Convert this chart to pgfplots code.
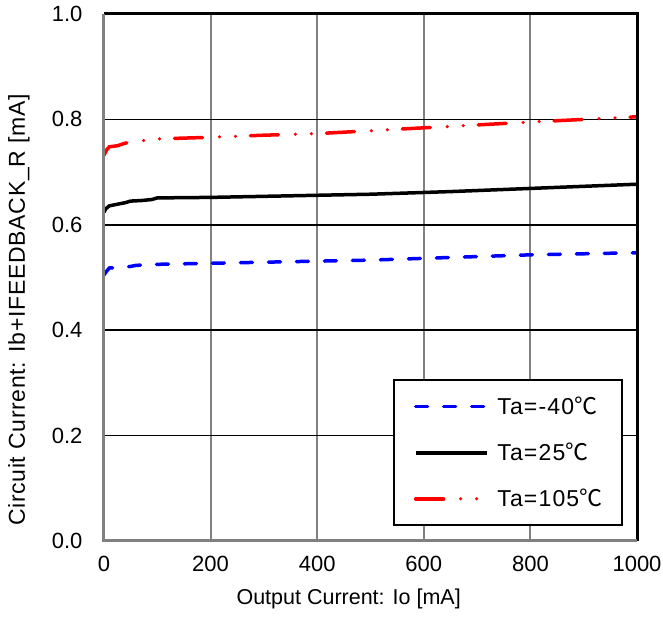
\documentclass[border=0pt]{standalone}
\usepackage{pgfplots}
\pgfplotsset{compat=1.18}
\usepackage{fontspec}
\setmainfont{Liberation Sans}
\newfontfamily\cjk{Noto Sans CJK JP}
\newcommand{\degC}{{\cjk ℃}}
\definecolor{gridgray}{RGB}{128,128,128}
\definecolor{cblue}{RGB}{0,0,255}
\definecolor{cred}{RGB}{255,0,0}
\begin{document}
\begin{tikzpicture}
\begin{axis}[
  name=ax,
  scale only axis, width=533pt, height=527pt,
  xmin=0, xmax=1000, ymin=0, ymax=1,
  xtick={0,200,400,600,800,1000},
  ytick={0,0.2,0.4,0.6,0.8,1.0},
  yticklabel style={/pgf/number format/fixed, /pgf/number format/fixed zerofill, /pgf/number format/precision=1, xshift=-18pt},
  /pgf/number format/assume math mode=true,
  /pgf/number format/1000 sep={},
  tick label style={font=\fontsize{22}{26}\selectfont},
  axis line style={draw=none},
  tick style={draw=none},
  major tick length=0pt,
  xticklabel style={yshift=-12pt},
  xmajorgrids, ymajorgrids,
  x grid style={gridgray, line width=2pt},
  y grid style={black, line width=1.5pt},
  xlabel={Output Current: Io [mA]},
  ylabel={Circuit Current: Ib+IFEEDBACK\_R [mA]},
  xlabel style={font=\fontsize{21.5}{26}\selectfont, at={(rel axis cs:0.459,0)}, anchor=center, yshift=-58pt},
  ylabel style={font=\fontsize{23}{27}\selectfont\addfontfeatures{LetterSpace=3}, at={([xshift=-85pt]rel axis cs:0,0.438)}, anchor=center},
  legend style={at={(rel axis cs:0.542,0.307)}, anchor=north west,
    draw=black, line width=2pt, fill=white,
    font=\fontsize{23}{27}\selectfont\addfontfeatures{LetterSpace=5},
    inner xsep=20pt, inner ysep=17pt, row sep=27pt, column sep=9pt,
    nodes={inner sep=0pt},
    cells={anchor=west}},
  legend image code/.code={\draw[#1] (0pt,0pt) -- (71pt,0pt);},
  clip=false,
]
\addplot[cblue, line width=3.5pt, line cap=round, dash pattern=on 12pt off 16pt] coordinates {
(0,0.505) (5,0.512) (10,0.518) (30,0.519) (50,0.521) (60,0.523) (100,0.525)
(300,0.529) (500,0.533) (650,0.538) (800,0.543) (1000,0.547)};
\addlegendentry{Ta=-40\degC}
\addplot[black, line width=3.5pt, line join=round] coordinates {
(0,0.624) (3,0.630) (10,0.636) (20,0.638) (30,0.640) (40,0.642) (50,0.645)
(70,0.646) (90,0.648) (100,0.651) (200,0.652) (500,0.658) (650,0.663) (1000,0.677)};
\addlegendentry{Ta=25\degC}
\addplot[cred, line width=3.5pt, line cap=round, dash pattern=on 28pt off 17pt on 0pt off 16pt on 0pt off 15pt] coordinates {
(0,0.732) (5,0.742) (10,0.748) (25,0.750) (40,0.755) (60,0.758) (100,0.763)
(200,0.766) (300,0.770) (400,0.773) (600,0.784) (800,0.795) (1000,0.805)};
\addlegendentry{Ta=105\degC}
\draw[black, line width=3pt] (rel axis cs:0,1) -- (rel axis cs:1,1) -- (rel axis cs:1,0);
\draw[gridgray, line width=3pt] (rel axis cs:0,1) -- (rel axis cs:0,0) -- (rel axis cs:1,0);
\coordinate (bl) at (rel axis cs:0,0);
\coordinate (tr) at (rel axis cs:1,1);
\end{axis}
\pgfresetboundingbox
\path ([shift={(-104pt,-84pt)}]bl) rectangle ([shift={(26pt,14pt)}]tr);
\end{tikzpicture}
\end{document}
